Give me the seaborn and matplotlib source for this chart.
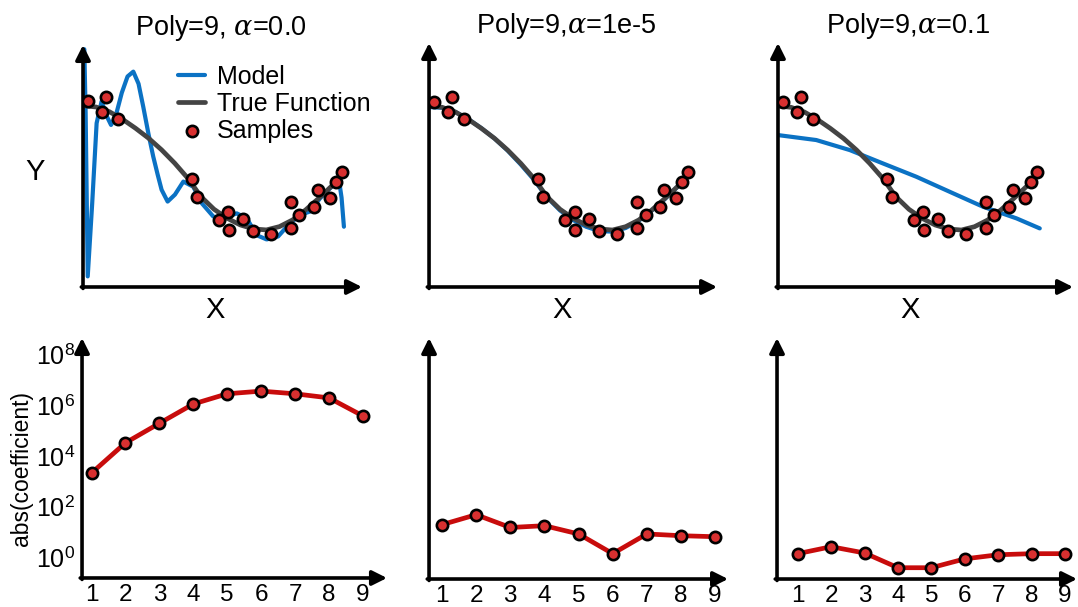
import numpy as np
import pandas as pd
import seaborn as sns
import matplotlib
matplotlib.use("Agg")
import matplotlib.pyplot as plt

# ---------------- data ----------------
sample_x = [0.020, 0.088, 0.074, 0.132, 0.415, 0.434, 0.555, 0.520, 0.557, 0.610,
            0.648, 0.718, 0.794, 0.794, 0.826, 0.882, 0.898, 0.943, 0.966, 0.987]
sample_y = [1.088, 1.160, 0.912, 0.802, -0.195, -0.493, -0.731, -0.868, -1.033, -0.856,
            -1.045, -1.104, -0.570, -1.005, -0.785, -0.648, -0.372, -0.499, -0.235, -0.069]

true_x = [0.0, 0.05, 0.10, 0.15, 0.20, 0.25, 0.30, 0.35, 0.40, 0.45, 0.50,
          0.55, 0.60, 0.65, 0.70, 0.75, 0.80, 0.85, 0.90, 0.95, 0.99]
true_y = [1.02, 0.996, 0.92, 0.796, 0.647, 0.482, 0.289, 0.069, -0.179, -0.482, -0.691,
          -0.840, -0.950, -1.016, -1.033, -0.978, -0.868, -0.702, -0.510, -0.306, -0.108]

# Poly=9, alpha=0.0 model (overfit)
model0_x = [0.005, 0.010, 0.018, 0.035, 0.052, 0.071, 0.090, 0.107, 0.125, 0.148, 0.170,
            0.192, 0.212, 0.230, 0.250, 0.268, 0.285, 0.300, 0.323, 0.351, 0.383, 0.421,
            0.453, 0.497, 0.535, 0.560, 0.587, 0.625, 0.663, 0.701, 0.745, 0.784, 0.828,
            0.866, 0.905, 0.949, 0.978, 0.987, 0.996]
model0_y = [1.95, 0.90, -1.80, -0.60, 0.73, 1.09, 0.85, 0.70, 0.85, 1.23, 1.50,
            1.58, 1.38, 1.00, 0.55, 0.18, -0.12, -0.37, -0.565, -0.45, -0.235, -0.32,
            -0.59, -0.81, -0.87, -0.80, -0.76, -0.84, -1.12, -1.19, -1.14, -0.95, -0.785,
            -0.73, -0.51, -0.32, -0.235, -0.50, -0.98]

# Poly=9, alpha=1e-5 model (good fit)
model1_x = [0.0, 0.05, 0.10, 0.15, 0.20, 0.25, 0.30, 0.35, 0.40, 0.45, 0.50,
            0.55, 0.60, 0.65, 0.70, 0.75, 0.80, 0.85, 0.90, 0.95, 0.99]
model1_y = [1.00, 0.99, 0.92, 0.80, 0.65, 0.48, 0.28, 0.05, -0.20, -0.49, -0.71,
            -0.87, -0.98, -1.05, -1.06, -1.00, -0.88, -0.71, -0.52, -0.31, -0.12]

# Poly=9, alpha=0.1 model (underfit)
model2_x = [0.0, 0.146, 0.274, 0.40, 0.528, 0.655, 0.782, 0.91, 0.999]
model2_y = [0.537, 0.455, 0.289, 0.069, -0.152, -0.40, -0.647, -0.84, -1.006]

degree = [1, 2, 3, 4, 5, 6, 7, 8, 9]
coef_a0 = [2.2e3, 3.4e4, 2.0e5, 1.15e6, 2.9e6, 3.7e6, 2.9e6, 2.0e6, 3.9e5]
coef_a1 = [22, 54, 17, 20, 9.5, 1.6, 9.5, 8.1, 7.4]
coef_a2 = [1.6, 3.0, 1.7, 0.45, 0.45, 1.0, 1.45, 1.6, 1.6]

titles = ["Poly=9, $\\alpha$=0.0", "Poly=9,$\\alpha$=1e-5", "Poly=9,$\\alpha$=0.1"]
ytick_vals = [1e0, 1e2, 1e4, 1e6, 1e8]
ytick_labels = ["$10^0$", "$10^2$", "$10^4$", "$10^6$", "$10^8$"]

# ---------------- styling ----------------
sns.set_theme(style="white")
plt.rcParams['font.family'] = ['Liberation Sans', 'DejaVu Sans']
plt.rcParams['mathtext.fontset'] = 'custom'
plt.rcParams['mathtext.rm'] = 'Liberation Sans'
plt.rcParams['mathtext.it'] = 'DejaVu Serif:italic'
plt.rcParams['text.color'] = 'black'
plt.rcParams['axes.labelcolor'] = 'black'
plt.rcParams['xtick.color'] = 'black'
plt.rcParams['ytick.color'] = 'black'

BLUE = "#0b72c4"
GRAY = "#444444"
RED_LINE = "#c80c0c"
RED_FILL = "#d83030"

fig = plt.figure(figsize=(10.78, 6.07), dpi=100)

top_boxes = [[0.0770, 0.5272, 0.2588, 0.3987],
             [0.3980, 0.5272, 0.2672, 0.4020],
             [0.7217, 0.5272, 0.2737, 0.4020]]
bot_boxes = [[0.0761, 0.0478, 0.2829, 0.3954],
             [0.3980, 0.0461, 0.2774, 0.3970],
             [0.7208, 0.0461, 0.2783, 0.3970]]
top_xmax = [1.065, 1.099, 1.126]
top_ymax = [2.02, 2.06, 2.06]
bot_xlim = [(0.72, 9.71), (0.62, 9.38), (0.38, 9.36)]
title_x = [0.495, 0.476, 0.44]
xlabel_x = [0.473, 0.462, 0.447]


def arrow_axes(ax):
    for s in ax.spines.values():
        s.set_visible(False)
    kw = dict(arrowstyle='-|>', lw=2.6, color='black', mutation_scale=22,
              shrinkA=0, shrinkB=0)
    ax.annotate('', xy=(1.0, 0.0), xytext=(-0.006, 0.0), xycoords='axes fraction',
                textcoords='axes fraction', arrowprops=kw, annotation_clip=False)
    ax.annotate('', xy=(0.0, 1.0), xytext=(0.0, -0.006), xycoords='axes fraction',
                textcoords='axes fraction', arrowprops=kw, annotation_clip=False)
    ax.tick_params(length=0)


models = [(model0_x, model0_y), (model1_x, model1_y), (model2_x, model2_y)]
samples_df = pd.DataFrame({"x": sample_x, "y": sample_y})
true_df = pd.DataFrame({"x": true_x, "y": true_y})

for i in range(3):
    ax = fig.add_axes(top_boxes[i])
    mx, my = models[i]
    mdf = pd.DataFrame({"x": mx, "y": my})
    sns.lineplot(data=mdf, x="x", y="y", ax=ax, color=BLUE, lw=3.0,
                 estimator=None, sort=False, label="Model", zorder=2)
    sns.lineplot(data=true_df, x="x", y="y", ax=ax, color=GRAY, lw=3.4,
                 estimator=None, sort=False, label="True Function", zorder=3)
    sns.scatterplot(data=samples_df, x="x", y="y", ax=ax, color=RED_FILL,
                    edgecolor="black", linewidth=1.9, s=66, label="Samples", zorder=4)
    ax.set_xlim(0, top_xmax[i])
    ax.set_ylim(-1.975, top_ymax[i])
    ax.set_xticks([])
    ax.set_yticks([])
    arrow_axes(ax)
    ax.set_title(titles[i], fontsize=19.5, x=title_x[i], pad=7)
    ax.set_xlabel("X", fontsize=21, va='center')
    ax.xaxis.set_label_coords(xlabel_x[i], -0.095)
    if i == 0:
        ax.set_ylabel("Y", fontsize=21, rotation=0, ha='center', va='center')
        ax.yaxis.set_label_coords(-0.172, 0.475)
        ax.legend(loc='upper left', bbox_to_anchor=(0.34, 0.918), frameon=False,
                  fontsize=18, handlelength=1.1, handletextpad=0.45,
                  labelspacing=0.12, borderaxespad=0, borderpad=0)
    else:
        ax.set_ylabel("")
        ax.get_legend().remove()

coefs = [coef_a0, coef_a1, coef_a2]
for i in range(3):
    ax = fig.add_axes(bot_boxes[i])
    cdf = pd.DataFrame({"degree": degree, "coef": coefs[i]})
    sns.lineplot(data=cdf, x="degree", y="coef", ax=ax, color=RED_LINE, lw=3.4,
                 estimator=None, zorder=2)
    sns.scatterplot(data=cdf, x="degree", y="coef", ax=ax, color=RED_FILL,
                    edgecolor="black", linewidth=1.9, s=66, zorder=3)
    ax.set_yscale('log')
    ax.set_ylim(10 ** -0.79, 10 ** 8.66)
    ax.set_xlim(*bot_xlim[i])
    ax.set_xticks(degree)
    ax.set_xticklabels([str(d) for d in degree], fontsize=17.5)
    ax.minorticks_off()
    ax.set_xlabel("")
    if i == 0:
        ax.set_yticks(ytick_vals)
        ax.set_yticklabels(ytick_labels, fontsize=18)
        ax.set_ylabel("abs(coefficient)", fontsize=16.5, va='center')
        ax.yaxis.set_label_coords(-0.2, 0.458)
    else:
        ax.set_yticks([])
        ax.set_ylabel("")
    arrow_axes(ax)
    ax.tick_params(axis='x', pad=4)
    ax.tick_params(axis='y', pad=5)

fig.savefig("out.png", dpi=100)
